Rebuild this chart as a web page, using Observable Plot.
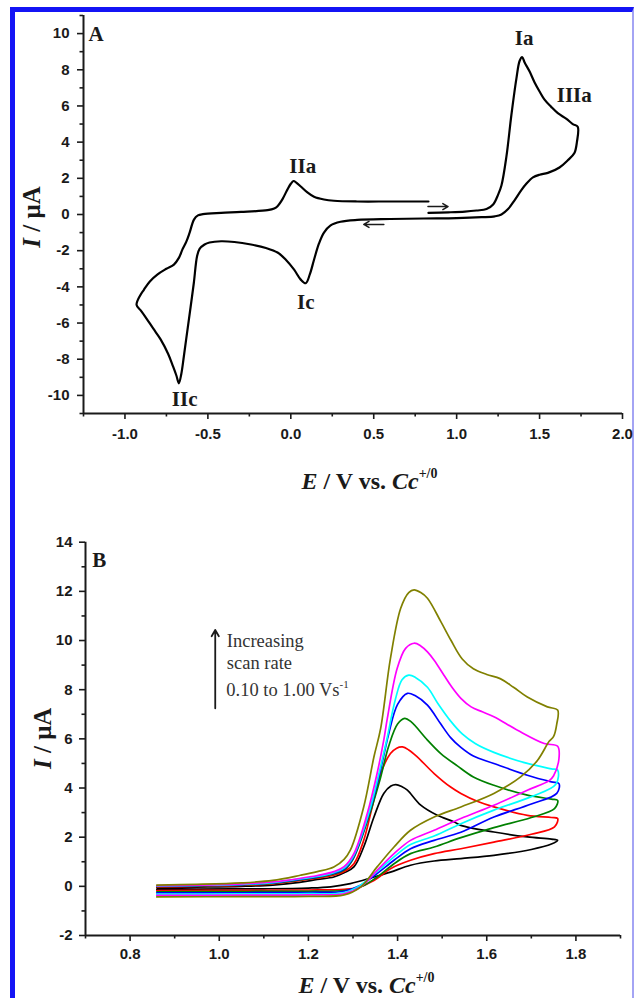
<!DOCTYPE html>
<html><head><meta charset="utf-8">
<script src="https://cdn.jsdelivr.net/npm/d3@7"></script>
<script src="https://cdn.jsdelivr.net/npm/@observablehq/plot@0.6"></script>
<style>
html,body{margin:0;padding:0;background:#fff;}
#page{position:relative;width:634px;height:998px;overflow:hidden;background:#fff;}
#frame{position:absolute;left:10px;top:7px;width:624px;height:1100px;border-left:5px solid #1414f5;border-top:5px solid #1414f5;border-right:2px solid #a4a4f4;box-sizing:border-box;}
#panelA{position:absolute;left:0;top:0;}
#panelB{position:absolute;left:0;top:500px;}
</style></head>
<body>
<div id="page"><div id="frame"></div><div id="panelA"></div><div id="panelB"></div></div>
<script>
// ---------------- Panel A data: single CV (E / V, I / µA) ----------------
const aE = [0.83,0.95,1.05,1.12,1.18,1.22,1.25,1.27,1.30,1.33,1.36,1.38,1.395,1.41,1.44,1.47,1.50,1.53,1.57,1.61,1.66,1.70,1.73,
  1.725,1.71,1.67,1.62,1.55,1.50,1.46,1.42,1.39,1.35,1.31,1.27,1.23,1.15,1.0,0.8,0.6,0.4,0.3,0.24,0.20,0.17,0.14,0.115,0.09,0.06,0.02,-0.03,-0.08,-0.15,-0.24,-0.34,-0.42,-0.49,-0.52,-0.55,-0.565,-0.585,-0.604,-0.625,-0.645,-0.66,-0.675,-0.69,-0.71,-0.74,-0.785,-0.83,-0.87,-0.905,-0.93,
  -0.91,-0.886,-0.85,-0.805,-0.75,-0.705,-0.675,-0.654,-0.63,-0.61,-0.584,-0.56,-0.53,-0.42,-0.3,-0.14,-0.1,-0.08,-0.05,-0.02,0.0,0.016,0.035,0.06,0.1,0.14,0.2,0.26,0.4,0.6,0.83];
const aI = [0.09,0.12,0.16,0.22,0.30,0.55,1.1,1.6,3.2,5.5,7.5,8.5,8.7,8.4,7.9,7.3,6.8,6.35,5.95,5.6,5.3,5.0,4.85,
  4.0,3.4,3.0,2.6,2.3,2.2,2.05,1.7,1.35,0.8,0.3,0.0,-0.1,-0.15,-0.2,-0.22,-0.25,-0.3,-0.4,-0.6,-1.0,-1.6,-2.5,-3.3,-3.8,-3.6,-3.05,-2.5,-2.1,-1.85,-1.66,-1.52,-1.48,-1.55,-1.66,-1.9,-2.3,-3.8,-5.1,-6.5,-7.85,-8.8,-9.33,-8.9,-8.4,-7.7,-6.9,-6.3,-5.75,-5.3,-5.0,
  -4.5,-4.16,-3.7,-3.32,-3.0,-2.77,-2.4,-1.94,-1.5,-1.0,-0.28,-0.05,0.02,0.09,0.14,0.24,0.33,0.46,0.85,1.39,1.7,1.85,1.75,1.55,1.22,0.98,0.83,0.76,0.72,0.72,0.72];
const aPeakLabels = ["Ia","IIIa","IIa","Ic","IIc"];
const aPeakE = [1.407,1.709,0.072,0.09,-0.64];
const aPeakI = [9.75,6.57,2.69,-4.85,-10.22];
const aArrowE1 = [0.827,0.561];
const aArrowE2 = [0.948,0.44];
const aArrowI = [0.44,-0.55];
const aTicksX = [-1.0,-0.5,0.0,0.5,1.0,1.5,2.0];
const aMinorX = [-1.25,-0.75,-0.25,0.25,0.75,1.25,1.75];
const aTicksY = [-10,-8,-6,-4,-2,0,2,4,6,8,10];
const aMinorY = [-11,-9,-7,-5,-3,-1,1,3,5,7,9,11];

// ---------------- Panel B data: CVs at increasing scan rate ----------------
const bBlackE = [0.86,0.95,1.05,1.12,1.18,1.22,1.257,1.28,1.302,1.324,1.347,1.369,1.385,1.396,1.41,1.422,1.452,1.489,1.527,1.542,1.616,1.691,1.745,1.759,
  1.745,1.70,1.616,1.542,1.482,1.429,1.384,1.347,1.294,1.25,1.2,1.1,0.95,0.86];
const bBlackI = [-0.05,-0.03,0.0,0.05,0.16,0.28,0.38,0.55,0.79,1.6,2.82,3.78,4.08,4.14,4.05,3.91,3.3,2.89,2.62,2.48,2.21,2.01,1.92,1.87,
  1.72,1.5,1.26,1.13,1.03,0.86,0.58,0.38,0.11,-0.02,-0.07,-0.1,-0.11,-0.12];
const bRedE = [0.86,0.95,1.05,1.12,1.182,1.22,1.257,1.28,1.302,1.324,1.343,1.362,1.384,1.398,1.411,1.425,1.444,1.482,1.519,1.542,1.58,1.616,1.691,1.745,1.759,
  1.752,1.70,1.616,1.542,1.482,1.429,1.384,1.347,1.31,1.28,1.2,1.05,0.86];
const bRedI = [-0.02,0.0,0.04,0.1,0.24,0.33,0.45,0.6,0.92,1.87,3.23,4.59,5.4,5.62,5.67,5.55,5.27,4.59,4.04,3.78,3.45,3.23,2.89,2.8,2.76,
  2.42,2.12,1.8,1.53,1.33,1.06,0.72,0.24,-0.05,-0.12,-0.15,-0.16,-0.17];
const bGreenE = [0.86,0.95,1.05,1.12,1.18,1.22,1.257,1.28,1.30,1.335,1.36,1.38,1.40,1.416,1.43,1.467,1.497,1.534,1.57,1.616,1.691,1.745,1.759,
  1.752,1.70,1.616,1.542,1.482,1.429,1.392,1.354,1.317,1.28,1.2,1.05,0.86];
const bGreenI = [0.0,0.02,0.06,0.12,0.26,0.36,0.5,0.66,1.1,2.8,4.3,5.7,6.6,6.83,6.7,5.95,5.4,4.9,4.45,4.11,3.71,3.55,3.5,
  3.16,2.8,2.39,1.98,1.6,1.33,0.92,0.38,-0.03,-0.17,-0.2,-0.21,-0.22];
const bBlueE = [0.86,0.95,1.05,1.12,1.18,1.22,1.257,1.28,1.30,1.335,1.36,1.38,1.40,1.422,1.44,1.467,1.497,1.519,1.542,1.57,1.616,1.691,1.745,1.762,
  1.757,1.70,1.616,1.542,1.482,1.429,1.392,1.354,1.317,1.28,1.2,1.05,0.86];
const bBlueI = [0.01,0.03,0.07,0.14,0.28,0.38,0.53,0.7,1.15,2.9,4.6,6.2,7.4,7.85,7.75,7.37,6.6,6.05,5.65,5.3,5.0,4.52,4.25,4.18,
  3.78,3.35,2.82,2.2,1.87,1.53,1.06,0.52,0.04,-0.2,-0.25,-0.26,-0.27];
const bCyanE = [0.86,0.95,1.05,1.12,1.18,1.22,1.257,1.28,1.30,1.335,1.357,1.375,1.395,1.41,1.425,1.44,1.467,1.49,1.52,1.545,1.575,1.616,1.691,1.745,1.759,
  1.755,1.70,1.616,1.542,1.482,1.429,1.392,1.354,1.317,1.28,1.2,1.05,0.86];
const bCyanI = [0.02,0.04,0.08,0.15,0.3,0.4,0.56,0.74,1.2,2.95,4.5,5.9,7.6,8.4,8.59,8.5,8.1,7.45,6.7,6.2,5.8,5.45,5.0,4.78,4.73,
  4.15,3.65,3.1,2.55,2.05,1.7,1.2,0.6,0.05,-0.25,-0.3,-0.31,-0.32];
const bMagentaE = [0.86,0.95,1.05,1.12,1.18,1.22,1.257,1.28,1.302,1.332,1.354,1.369,1.377,1.399,1.418,1.437,1.452,1.467,1.482,1.504,1.522,1.542,1.565,1.59,1.616,1.669,1.729,1.759,
  1.762,1.75,1.74,1.691,1.616,1.542,1.482,1.429,1.392,1.354,1.317,1.28,1.2,1.05,0.86];
const bMagentaI = [0.03,0.05,0.1,0.18,0.32,0.44,0.6,0.8,1.33,2.96,4.59,5.95,6.83,8.86,9.68,9.89,9.78,9.54,9.2,8.59,8.1,7.65,7.3,7.1,6.9,6.35,5.81,5.7,
  5.2,4.5,4.3,3.91,3.3,2.76,2.28,1.87,1.33,0.65,-0.03,-0.3,-0.35,-0.36,-0.37];
const bOliveE = [0.86,0.95,1.05,1.12,1.182,1.22,1.257,1.28,1.294,1.324,1.347,1.362,1.384,1.407,1.425,1.437,1.452,1.467,1.497,1.52,1.545,1.57,1.6,1.63,1.66,1.691,1.736,1.759,
  1.757,1.75,1.74,1.714,1.676,1.616,1.542,1.482,1.429,1.392,1.354,1.317,1.28,1.2,1.05,0.86];
const bOliveI = [0.05,0.08,0.14,0.24,0.45,0.6,0.79,1.1,1.47,3.23,5.27,6.42,9.27,11.31,11.95,12.06,11.95,11.72,10.77,10.0,9.25,8.85,8.62,8.45,8.1,7.7,7.3,7.17,
  6.6,6.1,5.9,5.13,4.45,3.78,3.23,2.82,2.28,1.6,0.79,-0.03,-0.35,-0.41,-0.42,-0.43];
const bSeriesNames = ["black","red","green","blue","cyan","magenta","olive"];
const bTicksX = [0.8,1.0,1.2,1.4,1.6,1.8];
const bMinorX = [0.7,0.9,1.1,1.3,1.5,1.7,1.9];
const bTicksY = [-2,0,2,4,6,8,10,12,14];
const bMinorY = [-1,1,3,5,7,9,11,13];
const bNoteLines = ["Increasing","scan rate"];
const bNoteE = 1.017;
const bNoteI = [9.96,9.1,7.96];
const bArrowE = 0.991;
const bArrowI1 = 7.24, bArrowI2 = 10.43;

// ---------------- styles ----------------
const seriesColors = ["#111111","#f02828","#24a64c","#2d3a9a","#22b4c8","#d33e9e","#7b7b33"];
const SANS = "'Liberation Sans', Arial, sans-serif";
const SERIF = "'Liberation Serif', 'Times New Roman', serif";
const INK = "#1a1a1a";

function richText(svg, {x, y, rotate = 0, anchor = "middle", size = 20, weight = "bold", parts}) {
  const t = d3.select(svg).append("text")
    .attr("transform", `translate(${x},${y})` + (rotate ? ` rotate(${rotate})` : ""))
    .attr("text-anchor", anchor)
    .attr("font-family", SERIF)
    .attr("font-size", size)
    .attr("font-weight", weight)
    .attr("fill", INK);
  for (const p of parts) {
    const s = t.append("tspan").text(p.t);
    if (p.italic) s.attr("font-style", "italic");
    if (p.sup) s.attr("font-size", Math.round(size * 0.6)).attr("dy", -size * 0.45);
  }
  return t;
}

function axes(xTicks, xMinor, yTicks, yMinor, xPad, yPad) {
  return [
    Plot.axisX({ticks: xTicks, tickSize: 6, tickPadding: xPad, tickFormat: d => d.toFixed(1), stroke: INK, strokeWidth: 1.6, fill: INK, fontSize: 15, fontWeight: "bold", label: null}),
    Plot.axisX({ticks: xMinor, tickSize: 3.5, stroke: INK, strokeWidth: 1.6, fill: "none", label: null}),
    Plot.axisY({ticks: yTicks, tickSize: 6, tickPadding: yPad, tickFormat: d => String(d), stroke: INK, strokeWidth: 1.6, fill: INK, fontSize: 15, fontWeight: "bold", label: null}),
    Plot.axisY({ticks: yMinor, tickSize: 3.5, stroke: INK, strokeWidth: 1.6, fill: "none", label: null})
  ];
}

// ---------------- Panel A ----------------
const aRows = aE.map((e, i) => ({E: e, I: aI[i]}));
const aPeaks = aPeakLabels.map((t, i) => ({t, E: aPeakE[i], I: aPeakI[i]}));
const aArrows = aArrowE1.map((e, i) => ({x1: e, x2: aArrowE2[i], y: aArrowI[i]}));
const wA = 634, hA = 500, mA = {l: 83, r: 12, t: 15, b: 87};
const chartA = Plot.plot({
  width: wA, height: hA,
  marginLeft: mA.l, marginRight: mA.r, marginTop: mA.t, marginBottom: mA.b,
  style: {fontFamily: SANS, fontSize: "15px", fontWeight: "bold", background: "transparent", overflow: "visible"},
  x: {domain: [-1.25, 2.0]},
  y: {domain: [-11, 11]},
  marks: [
    ...axes(aTicksX, aMinorX, aTicksY, aMinorY, 8.5, 8),
    Plot.ruleX([-1.25], {stroke: INK, strokeWidth: 2}),
    Plot.ruleY([-11], {stroke: INK, strokeWidth: 2}),
    Plot.line(aRows, {x: "E", y: "I", stroke: "#000", strokeWidth: 2.2, curve: "catmull-rom"}),
    Plot.text(aPeaks, {x: "E", y: "I", text: "t", fontFamily: SERIF, fontSize: 21, fontWeight: "bold", fill: INK, textAnchor: "middle", lineAnchor: "middle"}),
    Plot.text(["A"], {x: -1.22, y: 9.97, text: d => d, fontFamily: SERIF, fontSize: 21, fontWeight: "bold", fill: INK, textAnchor: "start", lineAnchor: "middle"}),
    Plot.arrow(aArrows, {x1: "x1", x2: "x2", y1: "y", y2: "y", stroke: INK, strokeWidth: 1.5, headLength: 6})
  ]
});
document.getElementById("panelA").appendChild(chartA);
richText(chartA, {x: (mA.l + wA - mA.r) / 2 + 17, y: 489, size: 24, parts: [{t: "E", italic: true}, {t: " / V vs. "}, {t: "Cc", italic: true}, {t: "+/0", sup: true}]});
richText(chartA, {x: 40, y: (mA.t + hA - mA.b) / 2 + 3, rotate: -90, size: 25, parts: [{t: "I", italic: true}, {t: " / μA"}]});

// ---------------- Panel B ----------------
const bE = [bBlackE, bRedE, bGreenE, bBlueE, bCyanE, bMagentaE, bOliveE];
const bI = [bBlackI, bRedI, bGreenI, bBlueI, bCyanI, bMagentaI, bOliveI];
const bRows = bSeriesNames.flatMap((s, k) => bE[k].map((e, i) => ({series: s, E: e, I: bI[k][i]})));
const wB = 634, hB = 498, mB = {l: 85, r: 14, t: 41.7, b: 63};
const chartB = Plot.plot({
  width: wB, height: hB,
  marginLeft: mB.l, marginRight: mB.r, marginTop: mB.t, marginBottom: mB.b,
  style: {fontFamily: SANS, fontSize: "15px", fontWeight: "bold", background: "transparent", overflow: "visible"},
  x: {domain: [0.7, 1.9]},
  y: {domain: [-2, 14]},
  color: {domain: bSeriesNames, range: seriesColors},
  marks: [
    ...axes(bTicksX, bMinorX, bTicksY, bMinorY, 7, 7),
    Plot.ruleX([0.7], {stroke: INK, strokeWidth: 2}),
    Plot.ruleY([-2], {stroke: INK, strokeWidth: 2}),
    Plot.line(bRows, {x: "E", y: "I", z: "series", stroke: "series", strokeWidth: 1.7, curve: "catmull-rom"}),
    Plot.text(["B"], {x: 0.715, y: 13.26, text: d => d, fontFamily: SERIF, fontSize: 21, fontWeight: "bold", fill: INK, textAnchor: "start", lineAnchor: "middle"}),
    Plot.text(bNoteLines, {x: bNoteE, y: (d, i) => bNoteI[i], text: d => d, fontFamily: SERIF, fontSize: 18.5, fontWeight: "normal", fill: "#333", textAnchor: "start", lineAnchor: "middle"}),
    Plot.arrow([0], {x1: bArrowE, x2: bArrowE, y1: bArrowI1, y2: bArrowI2, stroke: INK, strokeWidth: 1.8, headLength: 6})
  ]
});
document.getElementById("panelB").appendChild(chartB);
const sxB = chartB.scale("x"), syB = chartB.scale("y");
richText(chartB, {x: sxB.apply(bNoteE), y: syB.apply(bNoteI[2]) + 6, anchor: "start", size: 18.5, weight: "normal", parts: [{t: "0.10 to 1.00 Vs"}, {t: "-1", sup: true}]}).attr("fill", "#333");
richText(chartB, {x: (mB.l + wB - mB.r) / 2 + 14, y: 493, size: 24, parts: [{t: "E", italic: true}, {t: " / V vs. "}, {t: "Cc", italic: true}, {t: "+/0", sup: true}]});
richText(chartB, {x: 51, y: (mB.t + hB - mB.b) / 2, rotate: -90, size: 25, parts: [{t: "I", italic: true}, {t: " / μA"}]});
</script>
</body></html>
